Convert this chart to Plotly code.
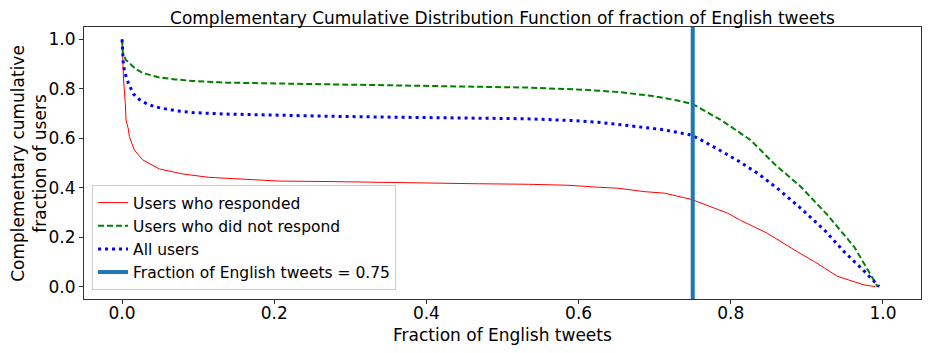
import plotly.graph_objects as go

# 数据
resp_x = [0.0, 0.0003, 0.002, 0.0043, 0.0052, 0.0083, 0.0096, 0.016, 0.027, 0.049, 0.079, 0.114,
          0.14, 0.206, 0.272, 0.34, 0.403, 0.47, 0.534, 0.586, 0.626, 0.652, 0.687, 0.713, 0.748,
          0.77, 0.796, 0.813, 0.848, 0.888, 0.91, 0.94, 0.962, 0.975, 0.99]
resp_y = [1.0, 0.958, 0.836, 0.742, 0.674, 0.637, 0.607, 0.553, 0.513, 0.476, 0.456, 0.442,
          0.437, 0.427, 0.425, 0.421, 0.418, 0.416, 0.414, 0.41, 0.402, 0.398, 0.384, 0.378, 0.353,
          0.326, 0.297, 0.268, 0.216, 0.14, 0.101, 0.042, 0.02, 0.007, 0.0]

noresp_x = [0.0, 0.001, 0.005, 0.0096, 0.018, 0.027, 0.049, 0.07, 0.0925, 0.138, 0.2, 0.272,
            0.34, 0.403, 0.47, 0.534, 0.608, 0.652, 0.695, 0.73, 0.75, 0.77, 0.787, 0.826, 0.857,
            0.892, 0.927, 0.962, 0.993]
noresp_y = [1.0, 0.945, 0.917, 0.904, 0.88, 0.864, 0.846, 0.838, 0.832, 0.825, 0.822, 0.819,
            0.816, 0.813, 0.81, 0.805, 0.796, 0.787, 0.772, 0.753, 0.738, 0.702, 0.674, 0.593, 0.497,
            0.404, 0.29, 0.162, 0.0]

all_x = [0.0, 0.0003, 0.0008, 0.0017, 0.0034, 0.0066, 0.0105, 0.0148, 0.0227, 0.031, 0.041,
         0.051, 0.072, 0.0925, 0.136, 0.2, 0.272, 0.34, 0.403, 0.47, 0.53, 0.59, 0.626, 0.669,
         0.713, 0.746, 0.757, 0.783, 0.809, 0.835, 0.861, 0.892, 0.923, 0.949, 0.975, 0.995]
all_y = [1.0, 0.965, 0.934, 0.90, 0.869, 0.836, 0.808, 0.78, 0.757, 0.742, 0.73,
         0.722, 0.711, 0.704, 0.698, 0.693, 0.689, 0.686, 0.684, 0.681, 0.679, 0.672, 0.665, 0.65,
         0.634, 0.614, 0.6, 0.556, 0.51, 0.459, 0.398, 0.317, 0.229, 0.141, 0.064, 0.0]

threshold = 0.75

font = "DejaVu Sans"
# 页面 body 默认有 8px 边距，图尺寸相应缩小
W, H = 923, 345
ML, MR, MT, MB = 76, 10, 19, 54

fig = go.Figure()
fig.add_trace(go.Scatter(x=resp_x, y=resp_y, mode='lines', name='Users who responded',
                         line=dict(color='red', width=1)))
fig.add_trace(go.Scatter(x=noresp_x, y=noresp_y, mode='lines', name='Users who did not respond',
                         line=dict(color='green', width=2, dash='6px,3px')))
fig.add_trace(go.Scatter(x=all_x, y=all_y, mode='lines', name='All users',
                         line=dict(color='blue', width=3, dash='3px,4px')))
fig.add_vline(x=threshold, line=dict(color='#1f77b4', width=4), layer='above',
              showlegend=True, name=f'Fraction of English tweets = {threshold}')

axis_style = dict(showline=True, linecolor='#333333', linewidth=1, mirror=True,
                  ticks='outside', ticklen=4, tickcolor='#333333', showgrid=False,
                  zeroline=False, automargin=False, tickfont=dict(size=17, color='black'))

# 轴标题用注释放置，位置更可控
fig.add_annotation(text='Fraction of English tweets', xref='paper', yref='paper',
                   x=0.5, y=-0.132, xanchor='center', yanchor='middle', showarrow=False,
                   font=dict(size=17))
fig.add_annotation(text='Complementary cumulative<br>fraction of users', xref='paper', yref='paper',
                   x=-0.066, y=0.5, xanchor='center', yanchor='middle', showarrow=False,
                   textangle=-90, font=dict(size=17))

fig.update_layout(
    width=W, height=H,
    margin=dict(l=ML, r=MR, t=MT, b=MB),
    plot_bgcolor='white', paper_bgcolor='white',
    font=dict(family=font, color='black'),
    title=dict(text='Complementary Cumulative Distribution Function of fraction of English tweets',
               x=(ML + W - MR) / 2 / W, xanchor='center', y=1 - 10 / H, yanchor='middle',
               font=dict(size=17)),
    xaxis=dict(range=[-0.05, 1.05], tickvals=[0, 0.2, 0.4, 0.6, 0.8, 1.0], tickformat='.1f',
               ticklabelstandoff=-5, **axis_style),
    yaxis=dict(range=[-0.05, 1.05], tickvals=[0, 0.2, 0.4, 0.6, 0.8, 1.0], tickformat='.1f',
               **axis_style),
    legend=dict(x=0.0096, y=0.033, xanchor='left', yanchor='bottom',
                bgcolor='rgba(255,255,255,0.8)', bordercolor='#cccccc', borderwidth=1,
                font=dict(size=15.5), tracegroupgap=0),
)

fig.write_html("out.html")
